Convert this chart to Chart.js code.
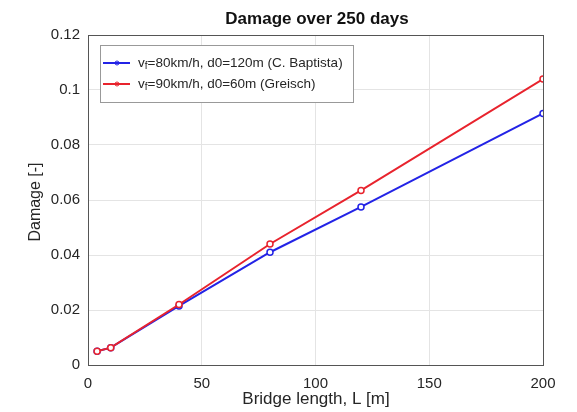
<!DOCTYPE html>
<html>
<head>
<meta charset="utf-8">
<script src="https://cdn.jsdelivr.net/npm/chart.js@4"></script>
<style>
  html, body { margin: 0; padding: 0; background: #fff; }
  #wrap { width: 577px; height: 412px; }
</style>
</head>
<body>
<div id="wrap"><canvas id="chart" width="577" height="412"></canvas></div>
<script>
// ── Data ─────────────────────────────────────────────────────────────────────

const LENGTHS   = [4, 10, 40, 80, 120, 200];
const BAPTISTA  = [0.0050, 0.0063, 0.0215, 0.0410, 0.0575, 0.0915];
const GREISCH   = [0.0050, 0.0063, 0.0220, 0.0440, 0.0635, 0.1040];
const LABELS    = ['v_f=80km/h, d0=120m (C. Baptista)', 'v_f=90km/h, d0=60m (Greisch)'];
const X_TICKS   = [0, 50, 100, 150, 200];
const Y_TICKS   = [0, 0.02, 0.04, 0.06, 0.08, 0.1, 0.12];

const C_BLUE  = '#2323e6';
const C_RED   = '#e8232d';
const C_GRID  = '#e4e4e4';
const C_AXIS  = '#555';
const C_TEXT  = '#262626';
const FONT    = '"Liberation Sans", Arial, sans-serif';

// ── Decorations: box, title, axis labels, legend ─────────────────────────────

function drawSubLabel(ctx, text, x, y) {
  // "v_f" -> v with subscript f
  const parts = text.split('_');
  ctx.font = '13.5px ' + FONT;
  ctx.fillText(parts[0], x, y);
  x += ctx.measureText(parts[0]).width;
  const rest = parts[1];
  ctx.font = '10px ' + FONT;
  ctx.fillText(rest[0], x, y + 3);
  x += ctx.measureText(rest[0]).width;
  ctx.font = '13.5px ' + FONT;
  ctx.fillText(rest.slice(1), x, y);
}

const decor = {
  id: 'decor',
  afterDraw(chart) {
    const { ctx, chartArea: a } = chart;
    ctx.save();
    ctx.strokeStyle = C_AXIS;
    ctx.lineWidth = 1;
    ctx.strokeRect(a.left + 0.5, a.top + 0.5, a.right - a.left, a.bottom - a.top);

    ctx.fillStyle = '#111';
    ctx.textAlign = 'center';
    ctx.textBaseline = 'middle';
    ctx.font = 'bold 17px ' + FONT;
    ctx.fillText('Damage over 250 days', 317, 19);

    ctx.fillStyle = C_TEXT;
    ctx.font = '17px ' + FONT;
    ctx.fillText('Bridge length, L [m]', 316, 399);
    ctx.save();
    ctx.font = '16px ' + FONT;
    ctx.translate(36, 202);
    ctx.rotate(-Math.PI / 2);
    ctx.fillText('Damage [-]', 0, 0);
    ctx.restore();

    // legend
    const lx = 100, ly = 45, lw = 253, lh = 57;
    ctx.fillStyle = '#fff';
    ctx.fillRect(lx, ly, lw, lh);
    ctx.strokeStyle = '#999';
    ctx.strokeRect(lx + 0.5, ly + 0.5, lw, lh);
    ctx.textAlign = 'left';
    chart.data.datasets.forEach((ds, i) => {
      const y = ly + 18 + i * 21;
      ctx.strokeStyle = ds.borderColor;
      ctx.lineWidth = 2;
      ctx.beginPath();
      ctx.moveTo(lx + 3, y);
      ctx.lineTo(lx + 30, y);
      ctx.stroke();
      ctx.lineWidth = 1;
      ctx.beginPath();
      ctx.arc(lx + 17, y, 2, 0, Math.PI * 2);
      ctx.stroke();
      ctx.fillStyle = C_TEXT;
      drawSubLabel(ctx, ds.label, lx + 38, y);
    });
    ctx.restore();
  }
};

// ── Chart ────────────────────────────────────────────────────────────────────

function series(label, values, color, order) {
  return {
    label,
    order,
    data: LENGTHS.map((x, i) => ({ x, y: values[i] })),
    borderColor: color,
    backgroundColor: color,
    pointBackgroundColor: '#fff',
    pointBorderColor: color,
    pointBorderWidth: 1.5,
    pointRadius: 3,
    borderWidth: 2,
    tension: 0,
  };
}

new Chart(document.getElementById('chart'), {
  type: 'line',
  data: {
    datasets: [
      series(LABELS[0], BAPTISTA, C_BLUE, 1),
      series(LABELS[1], GREISCH, C_RED, 0),
    ]
  },
  options: {
    responsive: false,
    animation: false,
    layout: { padding: { top: 35, right: 34, left: 0, bottom: 0 } },
    plugins: { legend: { display: false }, tooltip: { enabled: false } },
    scales: {
      x: {
        type: 'linear',
        min: 0, max: 200,
        afterBuildTicks: s => { s.ticks = X_TICKS.map(v => ({ value: v })); },
        afterFit: s => { s.height = 47; },
        ticks: { color: C_TEXT, padding: 10, font: { family: FONT, size: 15 } },
        grid: { color: C_GRID, drawTicks: false },
        border: { color: C_AXIS },
      },
      y: {
        type: 'linear',
        min: 0, max: 0.12,
        afterBuildTicks: s => { s.ticks = Y_TICKS.map(v => ({ value: v })); },
        afterFit: s => { s.width = 88; },
        ticks: {
          color: C_TEXT, padding: 8, font: { family: FONT, size: 15 },
          callback: v => String(+v.toFixed(2))
        },
        grid: { color: C_GRID, drawTicks: false },
        border: { color: C_AXIS },
      }
    }
  },
  plugins: [decor]
});
</script>
</body>
</html>
